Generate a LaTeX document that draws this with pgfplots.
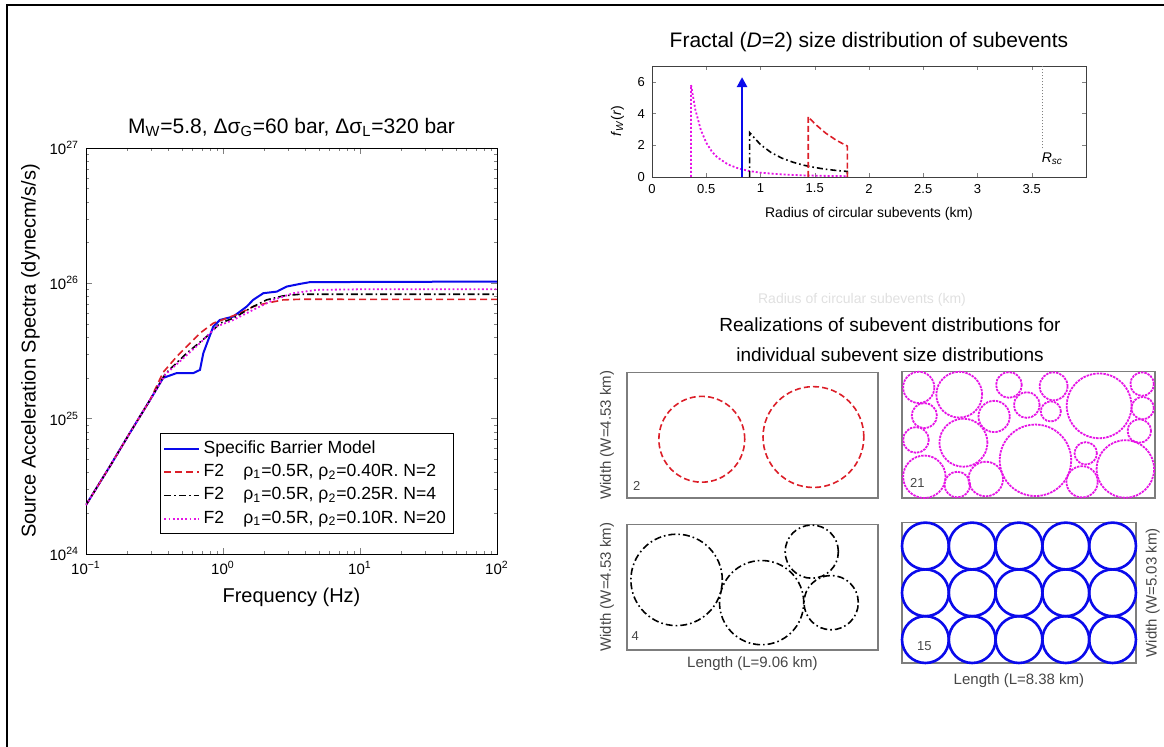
\documentclass[border=0pt]{standalone}
\usepackage{fontspec}
\setmainfont{Liberation Sans}
\usepackage{pgfplots}
\pgfplotsset{compat=1.18}
\usetikzlibrary{arrows.meta}

\definecolor{mblue}{RGB}{10,10,235}
\definecolor{mred}{RGB}{220,30,40}
\definecolor{mmag}{RGB}{230,20,230}
\definecolor{boxgray}{RGB}{125,125,125}
\definecolor{txtgray}{RGB}{70,70,70}

\newcommand{\fs}[1]{\fontsize{#1}{#1}\selectfont}

\pgfplotsset{
  panel/.style={anchor=south west, xmin=0, ymin=0, xtick=\empty, ytick=\empty,
    axis line style={boxgray, line width=0.6pt}, clip=false,
    label style={font=\fs{7.5}, text=txtgray, inner sep=0pt}},
  circles/.style n args={2}{scatter, only marks, mark=o,
    scatter/use mapped color={draw=#1},
    visualization depends on={#2*\thisrow{r} \as \rr},
    scatter/@pre marker code/.append style={/tikz/mark size=\rr pt}},
}

\begin{document}
\begin{tikzpicture}
\path[use as bounding box] (0,0) rectangle (582pt,-373.5pt);
\draw[line width=1pt] (3.5pt,-373.5pt) -- (3.5pt,-2.5pt) -- (582pt,-2.5pt);

% source acceleration spectra
\begin{axis}[
  at={(43pt,-277pt)}, anchor=south west, scale only axis,
  width=205.5pt, height=203pt,
  xmode=log, ymode=log, xmin=0.1, xmax=100, ymin=1e24, ymax=1e27,
  xtick={0.1,1,10,100},
  xticklabels={10\textsuperscript{−1},10\textsuperscript{0},10\textsuperscript{1},10\textsuperscript{2}},
  ytick={1e24,1e25,1e26,1e27},
  yticklabels={10\textsuperscript{24},10\textsuperscript{25},10\textsuperscript{26},10\textsuperscript{27}},
  minor xtick={0.2,0.3,0.4,0.5,0.6,0.7,0.8,0.9,2,3,4,5,6,7,8,9,20,30,40,50,60,70,80,90},
  minor ytick={2e24,3e24,4e24,5e24,6e24,7e24,8e24,9e24,2e25,3e25,4e25,5e25,6e25,7e25,8e25,9e25,2e26,3e26,4e26,5e26,6e26,7e26,8e26,9e26},
  tick label style={font=\fs{7.5}},
  major tick length=3pt, minor tick length=1.5pt,
  xlabel={Frequency (Hz)},
  ylabel={Source Acceleration Spectra (dynecm/s/s)},
  ylabel style={xshift=0pt, yshift=-2pt},
  label style={font=\fs{10}},
  title={M\textsubscript{W}=5.8, Δσ\textsubscript{G}=60 bar, Δσ\textsubscript{L}=320 bar},
  title style={font=\fs{10.5}, yshift=-4pt},
  legend style={at={(0.18,0.05)}, anchor=south west, font=\fs{8.8}, draw=black,
    row sep=0pt, inner sep=1.5pt},
  legend cell align=left,
]
\addplot[mblue, line width=1pt] coordinates {
  (0.1,2.30e24) (0.15,4.47e24) (0.209,7.84e24) (0.293,1.37e25) (0.366,2.0e25)
  (0.459,2.17e25) (0.607,2.17e25) (0.679,2.29e25) (0.718,3.04e25) (0.849,4.79e25)
  (0.95,5.36e25) (1.19,5.68e25) (1.49,6.73e25) (1.66,7.54e25) (1.97,8.45e25)
  (2.47,8.68e25) (2.92,9.46e25) (3.65,9.9e25) (4.32,1.02e26) (100,1.03e26)};
\addlegendentry{Specific Barrier Model}
\addplot[mred, line width=0.8pt, dash pattern=on 3.5pt off 2pt] coordinates {
  (0.1,2.30e24) (0.15,4.47e24) (0.209,7.84e24) (0.293,1.37e25) (0.366,2.2e25)
  (0.459,2.87e25) (0.543,3.41e25) (0.679,4.28e25) (0.849,5.07e25) (1.064,5.52e25)
  (1.33,6.01e25) (1.66,6.73e25) (2.08,7.13e25) (2.75,7.54e25) (3.65,7.62e25) (100,7.6e25)};
\addlegendentry{F2\hspace{1.1em}ρ\textsubscript{1}=0.5R, ρ\textsubscript{2}=0.40R. N=2}
\addplot[black, line width=0.8pt, dash pattern=on 3.5pt off 1.5pt on 0.8pt off 1.5pt] coordinates {
  (0.1,2.30e24) (0.15,4.47e24) (0.209,7.84e24) (0.293,1.37e25) (0.38,2.15e25)
  (0.543,3.04e25) (0.76,4.04e25) (0.95,5.07e25) (1.19,5.52e25) (1.66,6.73e25)
  (2.08,7.54e25) (2.75,8.07e25) (3.65,8.3e25) (100,8.3e25)};
\addlegendentry{F2\hspace{1.1em}ρ\textsubscript{1}=0.5R, ρ\textsubscript{2}=0.25R. N=4}
\addplot[mmag, line width=0.9pt, dash pattern=on 0.9pt off 1.2pt] coordinates {
  (0.1,2.30e24) (0.15,4.47e24) (0.209,7.84e24) (0.293,1.37e25) (0.38,2.12e25)
  (0.679,3.61e25) (0.9,4.79e25) (1.19,5.36e25) (1.66,6.36e25) (2.33,7.54e25)
  (3.26,8.45e25) (4.83,8.94e25) (11.2,9.04e25) (100,9.04e25)};
\addlegendentry{F2\hspace{1.1em}ρ\textsubscript{1}=0.5R, ρ\textsubscript{2}=0.10R. N=20}
\end{axis}

% fractal size distribution
\begin{axis}[
  at={(326pt,-88.5pt)}, anchor=south west, scale only axis,
  width=217pt, height=55.5pt,
  xmin=0, xmax=4, ymin=0, ymax=7,
  xtick={0,0.5,...,3.5}, ytick={0,2,4,6},
  tick label style={font=\fs{6.5}, /pgf/number format/assume math mode=true},
  major tick length=2pt,
  axis line style={black!75},
  xlabel={Radius of circular subevents (km)},
  ylabel={\textit{f}\textsubscript{\textit{W}}(\textit{r})},
  label style={font=\fs{7}},
  title={Fractal (\textit{D}=2) size distribution of subevents},
  title style={font=\fs{10.5}, yshift=-2.5pt},
  clip=false,
]
\addplot[black!50, line width=0.5pt, densely dotted] coordinates {(3.6,1.8) (3.6,7)};
\addplot[mmag, line width=0.9pt, dash pattern=on 1pt off 1pt] coordinates {
  (0.36,0) (0.36,5.8) (0.40,4.23) (0.45,2.97) (0.50,2.16) (0.55,1.62) (0.60,1.25)
  (0.70,0.79) (0.80,0.53) (0.90,0.37) (1.00,0.27) (1.20,0.16) (1.40,0.10)
  (1.60,0.07) (1.80,0.05) (1.80,0)};
\addplot[black, line width=0.8pt, dash pattern=on 3pt off 1.5pt on 0.8pt off 1.5pt] coordinates {
  (0.9,0) (0.9,2.8) (1.0,2.04) (1.1,1.53) (1.2,1.18) (1.3,0.93) (1.4,0.74)
  (1.5,0.60) (1.6,0.49) (1.7,0.41) (1.8,0.35) (1.8,0)};
\addplot[mred, line width=0.8pt, dash pattern=on 3pt off 1.5pt] coordinates {
  (1.44,0) (1.44,3.8) (1.5,3.36) (1.6,2.77) (1.7,2.31) (1.8,1.95) (1.8,0)};
\addplot[mblue, line width=1.3pt, -{Triangle[width=5pt,length=5pt]}] coordinates {
  (0.83,0) (0.83,6.3)};
\node[font=\fs{7}] at (axis cs:3.69,1.15) {\textit{R}\textsubscript{\textit{sc}}};
\end{axis}

\node[font=\fs{7}, text=black!12] at (431pt,-150pt) {Radius of circular subevents (km)};
\node[font=\fs{9.5}] at (445pt,-162.5pt) {Realizations of subevent distributions for};
\node[font=\fs{9.5}] at (445pt,-177.5pt) {individual subevent size distributions};

% N=2
\begin{axis}[panel, at={(313.5pt,-249pt)}, x=13.85pt, y=13.85pt, xmax=9.06, ymax=4.53,
  ylabel={Width (W=4.53 km)},
  ylabel style={at={(axis description cs:-0.05,0.5)}, anchor=south}]
\addplot[circles={mred}{13.85}, mark options={line width=0.8pt, dash pattern=on 3pt off 1.6pt}] table {
x y r
2.70 2.12 1.55
6.73 2.20 1.82
};
\node[font=\fs{6.5}, text=txtgray] at (axis cs:0.35,0.45) {2};
\end{axis}

% N=21
\begin{axis}[panel, at={(451pt,-249pt)}, x=13.96pt, y=13.96pt, xmax=9.06, ymax=4.53]
\addplot[circles={mmag}{13.96}, mark options={line width=0.9pt, dash pattern=on 1.2pt off 0.5pt}] table {
x y r
0.60 3.96 0.56
2.05 3.70 0.82
3.83 4.05 0.46
5.43 4.00 0.50
7.06 3.30 1.16
8.60 4.08 0.42
8.62 3.22 0.40
0.80 2.95 0.45
3.30 2.92 0.56
4.47 3.33 0.46
5.33 3.10 0.36
0.50 2.08 0.46
2.20 1.98 0.86
4.78 1.35 1.28
8.50 2.40 0.42
6.58 1.60 0.40
8.00 1.04 1.03
0.80 0.76 0.76
1.98 0.48 0.46
3.00 0.68 0.62
6.45 0.58 0.56
};
\node[font=\fs{6.5}, text=txtgray] at (axis cs:0.55,0.55) {21};
\end{axis}

% N=4
\begin{axis}[panel, at={(313.5pt,-325pt)}, x=13.85pt, y=13.85pt, xmax=9.06, ymax=4.53,
  ylabel={Width (W=4.53 km)},
  ylabel style={at={(axis description cs:-0.05,0.5)}, anchor=south},
  xlabel={Length (L=9.06 km)},
  xlabel style={at={(axis description cs:0.5,-0.05)}, anchor=north}]
\addplot[circles={black}{13.85}, mark options={line width=0.8pt, dash pattern=on 3.5pt off 1.5pt on 0.8pt off 1.5pt}] table {
x y r
1.79 2.53 1.65
4.86 1.71 1.52
6.67 3.55 0.96
7.37 1.71 0.98
};
\node[font=\fs{6.5}, text=txtgray] at (axis cs:0.3,0.5) {4};
\end{axis}

% N=15
\begin{axis}[panel, at={(451pt,-331.5pt)}, x=13.96pt, y=13.96pt, xmax=8.38, ymax=5.03,
  ylabel={Width (W=5.03 km)},
  ylabel style={at={(axis description cs:1.04,0.5)}, anchor=north},
  xlabel={Length (L=8.38 km)},
  xlabel style={at={(axis description cs:0.5,-0.07)}, anchor=north}]
\addplot[circles={mblue}{13.96}, mark options={line width=1.3pt}] table {
x y r
0.838 0.838 0.838
2.514 0.838 0.838
4.190 0.838 0.838
5.866 0.838 0.838
7.542 0.838 0.838
0.838 2.514 0.838
2.514 2.514 0.838
4.190 2.514 0.838
5.866 2.514 0.838
7.542 2.514 0.838
0.838 4.190 0.838
2.514 4.190 0.838
4.190 4.190 0.838
5.866 4.190 0.838
7.542 4.190 0.838
};
\node[font=\fs{6.5}, text=txtgray] at (axis cs:0.8,0.6) {15};
\end{axis}
\end{tikzpicture}
\end{document}
